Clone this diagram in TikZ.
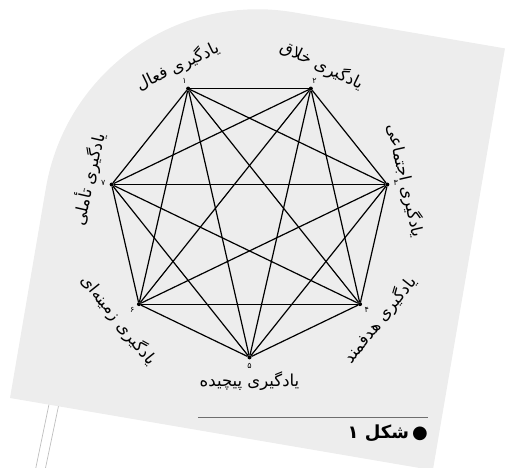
\documentclass[tikz,border=0pt]{standalone}
\usepackage{fontspec}
\newfontfamily\fa[Script=Arabic]{DejaVu Sans}
\TeXXeTstate=1
\definecolor{pg}{RGB}{237,237,237}
\definecolor{pl}{RGB}{190,190,190}
\definecolor{cl}{RGB}{110,110,110}
\tikzset{vdot/.style={circle,fill,inner sep=0pt,minimum size=4pt},
 edge/.style={line width=1.2pt},
 lab/.style={font=\fa\fontsize{16.5}{18}\selectfont,inner sep=0pt},
 num/.style={font=\fa\fontsize{8}{9}\selectfont,inner sep=0pt},
 pole/.style={draw=pl,line width=.7pt},
 figcap/.style={font=\fa\bfseries\fontsize{18}{20}\selectfont,inner sep=0pt,anchor=east}}
\begin{document}
\begin{tikzpicture}[x=1pt,y=1pt]
\clip (-249.5,-252) rectangle (261.5,216);
\draw[pole] (-196.7,-170)--(-213.7,-252);\draw[pole] (-186.8,-170)--(-204,-252);
\begin{scope}[shift={(-239.5,-182)},rotate=-9.7]
\fill[pg] (0,0)--(0,213) arc[start angle=180,end angle=90,radius=215pt]--(429,428)--(429,0)--cycle;
\end{scope}
\foreach \k/\a in {1/115.71,2/64.29,3/12.86,4/-38.57,5/-90,6/-141.43,7/-192.86}{
 \node[vdot] (v\k) at (\a:141.4) {};}
\foreach \i [evaluate=\i as \n using int(\i+1)] in {1,...,6}
 \foreach \j in {\n,...,7} \draw[edge] (v\i)--(v\j);
\foreach \k/\a/\d in {1/115.71/۱,2/64.29/۲,3/12.86/۳,4/-38.57/۴,5/-90/۵,6/-141.43/۶,7/-192.86/۷}
 \node[num] (n\k) at (\a:150) {\d};
\node[lab,rotate=25.71] (t1) at (115.71:166) {\beginR یادگیری فعال\endR};
\node[lab,rotate=-25.71] (t2) at (64.29:167) {\beginR یادگیری خلاق\endR};
\node[lab,rotate=-77.14] (t3) at (12.86:160) {\beginR یادگیری اجتماعی\endR};
\node[lab,rotate=51.43] (t4) at (-38.57:167) {\beginR یادگیری هدفمند\endR};
\node[lab] (t5) at (-90:165) {\beginR یادگیری پیچیده\endR};
\node[lab,rotate=-51.43] (t6) at (-141.43:167) {\beginR یادگیری زمینه‌ای\endR};
\node[lab,rotate=77.14] (t7) at (-192.86:165) {\beginR یادگیری تأملی\endR};
\draw[cl,line width=1pt] (-51.5,-201)--(178.5,-201);
\node[figcap] (fc) at (178.5,-217.5) {\beginR ●\,شکل ۱\endR};
\end{tikzpicture}
\end{document}
